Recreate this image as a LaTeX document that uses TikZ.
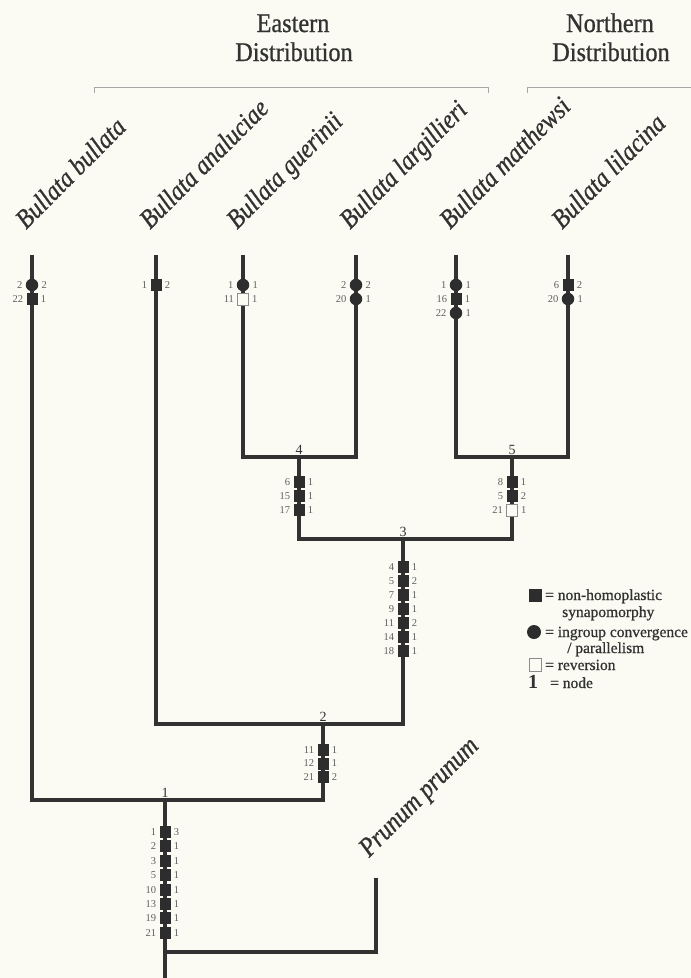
\documentclass[tikz,border=0pt]{standalone}
\usepackage{fontspec}
\setmainfont{Liberation Serif}
\newfontfamily\taxafont[FakeStretch=0.88, FakeBold=0.8, ItalicFont={* Italic}]{Liberation Serif}
\newfontfamily\headfont[FakeStretch=0.9, FakeBold=0.8]{Liberation Serif}
\newfontfamily\legfont[FakeBold=0.8]{Liberation Serif}
\definecolor{paper}{RGB}{251,251,244}
\definecolor{ink}{RGB}{50,50,50}
\definecolor{numgray}{RGB}{95,95,95}
\tikzset{
  branch/.style={line width=3.5pt, draw=ink, line join=miter},
  syn/.style={rectangle, fill=ink!90!black, minimum width=11pt, minimum height=12pt, inner sep=0pt},
  conv/.style={circle, fill=ink!90!black, minimum size=12.5pt, inner sep=0pt},
  rev/.style={rectangle, draw=black!45, fill=paper, line width=0.7pt, minimum width=11pt, minimum height=12pt, inner sep=0pt},
  cnum/.style={font=\fontsize{10.5}{10.5}\selectfont, text=numgray, inner sep=0pt},
  taxon/.style={font=\taxafont\fontsize{27}{27}\selectfont\itshape, text=ink, rotate=45, anchor=base west, inner sep=0pt},
  nodenum/.style={font=\fontsize{14}{14}\selectfont, text=ink, anchor=south, inner sep=0pt, yshift=2.5pt},
  head/.style={font=\headfont\fontsize{27}{27}\selectfont, text=ink, anchor=base, inner sep=0pt},
  legend/.style={font=\legfont\fontsize{15.5}{16}\selectfont, text=ink, anchor=base west, inner sep=0pt},
  bracket/.style={draw=black!35, line width=0.8pt}
}
\begin{document}
\begin{tikzpicture}[x=1pt, y=-1pt, label distance=3pt]
\fill[paper] (0,0) rectangle (691,978);
\useasboundingbox (0,0) rectangle (691,978);

% distribution headers
\node[head] (east1) at (293,32) {Eastern};
\node[head] (east2) at (294,61) {Distribution};
\node[head] (north1) at (610,32) {Northern};
\node[head] (north2) at (611,61) {Distribution};
\draw[bracket] (94,93) -- (94,87) -- (488,87) -- (488,93);
\draw[bracket] (527,93) -- (527,87) -- (691,87);

% tips and internal nodes
\coordinate (bul) at (32,255);
\coordinate (ana) at (156,255);
\coordinate (gue) at (243,255);
\coordinate (lar) at (356,255);
\coordinate (mat) at (456,255);
\coordinate (lil) at (568,255);
\coordinate (pru) at (376,878);
\coordinate (n4) at (299,457);
\coordinate (n5) at (512,457);
\coordinate (n3) at (403,539);
\coordinate (n2) at (323,724);
\coordinate (n1) at (165,800);
\coordinate (n0) at (165,952);
\coordinate (root) at (165,978);

% taxa
\node[taxon] (tbul) at (26,230) {Bullata bullata};
\node[taxon] (tana) at (150,230) {Bullata analuciae};
\node[taxon] (tgue) at (237,230) {Bullata guerinii};
\node[taxon] (tlar) at (350,230) {Bullata largillieri};
\node[taxon] (tmat) at (450,230) {Bullata matthewsi};
\node[taxon] (tlil) at (562,230) {Bullata lilacina};
\node[taxon] (tpru) at (369,858) {Prunum prunum};

% branches
\draw[branch] (gue) |- (n4) -| (lar);
\draw[branch] (mat) |- (n5) -| (lil);
\draw[branch] (n4) |- (n3) -| (n5);
\draw[branch] (ana) |- (n2) -| (n3);
\draw[branch] (bul) |- (n1) -| (n2);
\draw[branch] (n1) -- (root);
\draw[branch] (pru) |- (n0);

% node numbers
\node[nodenum] (l1) at (n1) {1};
\node[nodenum] (l2) at (n2) {2};
\node[nodenum] (l3) at (n3) {3};
\node[nodenum] (l4) at (n4) {4};
\node[nodenum] (l5) at (n5) {5};

% characters on terminal branches
\foreach \kind/\lft/\rgt [count=\i from 0] in {conv/2/2, syn/22/1}
	\node[\kind, label={[cnum]left:\lft}, label={[cnum]right:\rgt}] (cbul\i) at (32,{285+14*\i}) {};
\foreach \kind/\lft/\rgt [count=\i from 0] in {syn/1/2}
	\node[\kind, label={[cnum]left:\lft}, label={[cnum]right:\rgt}] (cana\i) at (156,{285+14*\i}) {};
\foreach \kind/\lft/\rgt [count=\i from 0] in {conv/1/1, rev/11/1}
	\node[\kind, label={[cnum]left:\lft}, label={[cnum]right:\rgt}] (cgue\i) at (243,{285+14*\i}) {};
\foreach \kind/\lft/\rgt [count=\i from 0] in {conv/2/2, conv/20/1}
	\node[\kind, label={[cnum]left:\lft}, label={[cnum]right:\rgt}] (clar\i) at (356,{285+14*\i}) {};
\foreach \kind/\lft/\rgt [count=\i from 0] in {conv/1/1, syn/16/1, conv/22/1}
	\node[\kind, label={[cnum]left:\lft}, label={[cnum]right:\rgt}] (cmat\i) at (456,{285+14*\i}) {};
\foreach \kind/\lft/\rgt [count=\i from 0] in {syn/6/2, conv/20/1}
	\node[\kind, label={[cnum]left:\lft}, label={[cnum]right:\rgt}] (clil\i) at (568,{285+14*\i}) {};

% characters on internal branches
\foreach \kind/\lft/\rgt [count=\i from 0] in {syn/6/1, syn/15/1, syn/17/1}
	\node[\kind, label={[cnum]left:\lft}, label={[cnum]right:\rgt}] (cfour\i) at (299,{482+14*\i}) {};
\foreach \kind/\lft/\rgt [count=\i from 0] in {syn/8/1, syn/5/2, rev/21/1}
	\node[\kind, label={[cnum]left:\lft}, label={[cnum]right:\rgt}] (cfive\i) at (512,{482+14*\i}) {};
\foreach \kind/\lft/\rgt [count=\i from 0] in {syn/4/1, syn/5/2, syn/7/1, syn/9/1, syn/11/2, syn/14/1, syn/18/1}
	\node[\kind, label={[cnum]left:\lft}, label={[cnum]right:\rgt}] (cthree\i) at (403,{567+14*\i}) {};
\foreach \kind/\lft/\rgt [count=\i from 0] in {syn/11/1, syn/12/1, syn/21/2}
	\node[\kind, label={[cnum]left:\lft}, label={[cnum]right:\rgt}] (ctwo\i) at (323,{750+13.5*\i}) {};
\foreach \kind/\lft/\rgt [count=\i from 0] in {syn/1/3, syn/2/1, syn/3/1, syn/5/1, syn/10/1, syn/13/1, syn/19/1, syn/21/1}
	\node[\kind, label={[cnum]left:\lft}, label={[cnum]right:\rgt}] (cone\i) at (165,{832+14.4*\i}) {};

% legend
\node[syn, minimum width=13pt, minimum height=13pt] (ksyn) at (535,595) {};
\node[legend] (tsyn1) at (545,600) {= non-homoplastic};
\node[legend] (tsyn2) at (562,617) {synapomorphy};
\node[conv, minimum size=14pt] (kconv) at (534,632) {};
\node[legend] (tconv1) at (545,637) {= ingroup convergence};
\node[legend] (tconv2) at (567,653) {/ parallelism};
\node[rev, minimum width=12pt, minimum height=13pt] (krev) at (535,665) {};
\node[legend] (trev) at (545,670) {= reversion};
\node[font=\fontsize{20}{20}\selectfont\bfseries, text=ink, anchor=base, inner sep=0pt] (knode) at (533,688) {1};
\node[legend] (tnode) at (550,688) {= node};
\end{tikzpicture}
\end{document}
